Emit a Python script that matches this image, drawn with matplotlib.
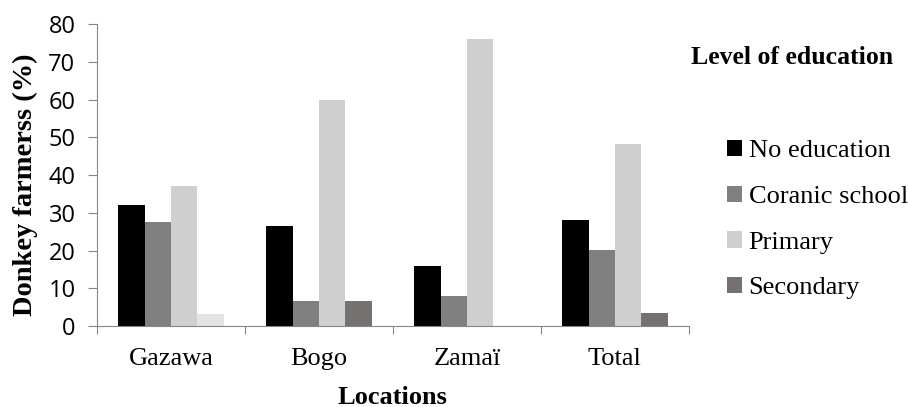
import numpy as np
import matplotlib
matplotlib.use("Agg")
from matplotlib import pyplot as plt
from matplotlib.patches import Patch

# share of donkey farmers (%) by level of education, per location
locations = ["Gazawa", "Bogo", "Zamaï", "Total"]
levels = ["No education", "Coranic school", "Primary", "Secondary"]
no_education = [32, 26.6, 16, 28.1]
coranic = [27.6, 6.7, 8, 20.1]
primary = [37.2, 60, 76, 48.3]
secondary = [3.2, 6.7, 0, 3.4]

colors = ["#000000", "#808080", "#d0cfcf", "#767171"]
serif = "Liberation Serif"

fig = plt.figure(figsize=(9.08, 4.07), dpi=100)
ax = fig.add_axes([0.1068, 0.199, 0.652, 0.742])

series = [no_education, coranic, primary, secondary]
x = np.arange(len(locations))
w = 0.178
for i, vals in enumerate(series):
    cols = [colors[i]] * len(vals)
    if i == 3:
        cols[0] = "#e4e4e4"  # Gazawa's secondary bar is shaded lighter
    ax.bar(x + (i - 1.5) * w, vals, width=w, color=cols, edgecolor="none", zorder=2)

ax.set_xlim(-0.5, len(locations) - 0.5)
ax.set_ylim(0, 80)
ax.set_yticks(range(0, 81, 10))

for side in ["top", "right"]:
    ax.spines[side].set_visible(False)
for side in ["left", "bottom"]:
    ax.spines[side].set_color("#868686")

# category ticks sit between groups, labels at group centres
ax.set_xticks(np.arange(len(locations) + 1) - 0.5)
ax.set_xticklabels([])
ax.set_xticks(x, minor=True)
ax.set_xticklabels(locations, minor=True, fontfamily=serif, fontsize=19)
ax.tick_params(axis="x", which="minor", length=0, pad=16)
ax.tick_params(axis="x", which="major", length=6, color="#868686")
ax.tick_params(axis="y", length=6.5, color="#868686", labelsize=17, pad=9)
for lab in ax.get_yticklabels():
    lab.set_fontfamily("Open Sans")

fig.text(392 / 908, 1 - 397 / 407, "Locations", fontfamily=serif, fontweight="bold",
         fontsize=19, ha="center", va="center")
fig.text(25 / 908, 1 - 185 / 407, "Donkey farmerss (%)", fontfamily=serif,
         fontweight="bold", fontsize=20.5, rotation=90, ha="center", va="center")

fig.text(691 / 908, 1 - 57 / 407, "Level of education", fontfamily=serif, fontweight="bold",
         fontsize=18.5, ha="left", va="center")

handles = [Patch(facecolor=c, edgecolor="none") for c in colors]
ax.legend(handles, levels, loc="upper left", bbox_to_anchor=(727 / 908, 1 - 140 / 407),
          bbox_transform=fig.transFigure, frameon=False,
          prop={"family": serif, "size": 19}, handlelength=0.57, handleheight=0.57,
          handletextpad=0.25, labelspacing=0.88, borderaxespad=0, borderpad=0)

fig.savefig("out.png", dpi=100)
